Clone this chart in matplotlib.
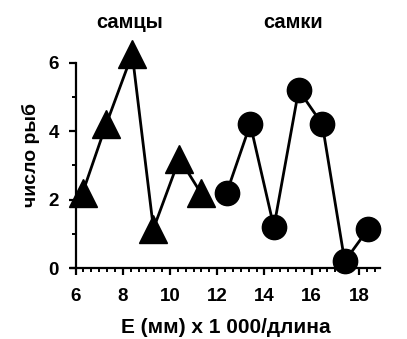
import matplotlib
matplotlib.use("Agg")
import matplotlib.pyplot as plt
from matplotlib.ticker import MultipleLocator, AutoMinorLocator

plt.rcParams['font.family'] = ['Liberation Sans', 'DejaVu Sans']
plt.rcParams['font.weight'] = 'bold'

# data
male_x = [6.3, 7.3, 8.4, 9.3, 10.4, 11.3]
male_y = [2.2, 4.2, 6.25, 1.15, 3.2, 2.2]
female_x = [12.4, 13.4, 14.4, 15.45, 16.45, 17.4, 18.4]
female_y = [2.2, 4.2, 1.2, 5.2, 4.2, 0.2, 1.15]
xticks = [6, 8, 10, 12, 14, 16, 18]
yticks = [0, 2, 4, 6]
label_male = "самцы"
label_female = "самки"
xlabel = "E (мм) x 1 000/длина"
ylabel = "число рыб"

fig = plt.figure(figsize=(4.07, 3.39), dpi=100)
ax = fig.add_axes([0.174, 0.209, 0.76, 0.667])

ax.plot(male_x, male_y, color='black', lw=2, marker='^', markersize=20,
        clip_on=False, zorder=3)
ax.plot(female_x, female_y, color='black', lw=2, marker='o', markersize=17.5,
        clip_on=False, zorder=3)

ax.set_xlim(5.8, 18.9)
ax.set_ylim(0, 6.6)
ax.spines['top'].set_visible(False)
ax.spines['right'].set_visible(False)
ax.spines['left'].set_position(('data', 6))
ax.spines['left'].set_bounds(0, 6)
for s in ('left', 'bottom'):
    ax.spines[s].set_linewidth(1.6)

ax.set_xticks(xticks)
ax.set_yticks(yticks)
ax.xaxis.set_minor_locator(AutoMinorLocator(6))
ax.yaxis.set_minor_locator(MultipleLocator(1))
ax.tick_params(axis='both', which='major', direction='out', length=5, width=1.6,
               labelsize=13.5)
ax.tick_params(axis='both', which='minor', direction='out', length=3, width=1.4)
ax.tick_params(axis='x', which='major', pad=9)
ax.tick_params(axis='y', which='major', pad=7)
for lab in ax.get_xticklabels() + ax.get_yticklabels():
    lab.set_fontweight('bold')

ax.set_xlabel(xlabel, fontsize=15, fontweight='bold', labelpad=10)
ax.set_ylabel(ylabel, fontsize=14, fontweight='bold', labelpad=6)

fig.text(130 / 407, 1 - 23 / 339, label_male, ha='center', va='center',
         fontsize=14.5, fontweight='bold')
fig.text(293 / 407, 1 - 23 / 339, label_female, ha='center', va='center',
         fontsize=14.5, fontweight='bold')

fig.savefig("out.png", dpi=100)
